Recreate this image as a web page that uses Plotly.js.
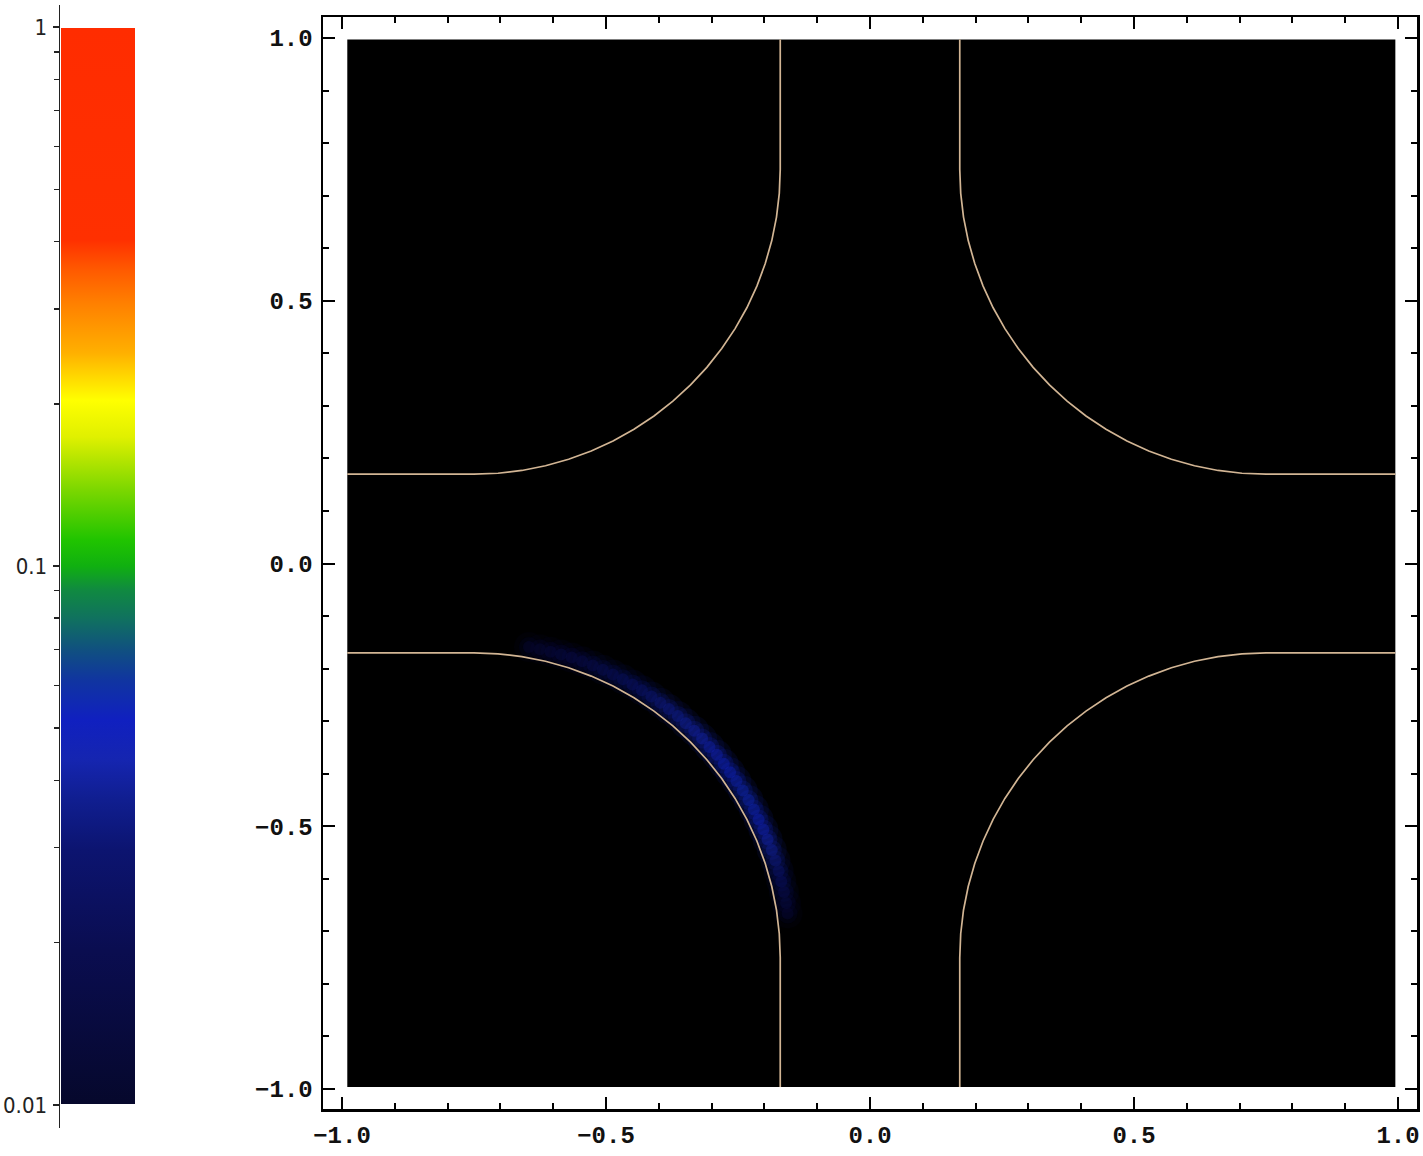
<!DOCTYPE html>
<html><head><meta charset="utf-8">
<script src="https://cdn.plot.ly/plotly-3.0.1.min.js"></script>
<style>html,body{margin:0;padding:0;background:#fff}</style>
</head><body><div id="chart" style="width:1423px;height:1156px"></div>
<script>
// Upper-left boundary arc; other three are mirror images
const arcX = [-0.75, -0.7045, -0.6593, -0.6146, -0.5708, -0.5280, -0.4867, -0.4470, -0.4091, -0.3733, -0.3399,
              -0.3090, -0.2808, -0.2555, -0.2332, -0.2142, -0.1984, -0.1860, -0.1771, -0.1718, -0.17];
const arcY = [0.17, 0.1718, 0.1771, 0.1860, 0.1984, 0.2142, 0.2332, 0.2555, 0.2808, 0.3090, 0.3399,
              0.3733, 0.4091, 0.4470, 0.4867, 0.5280, 0.5708, 0.6146, 0.6593, 0.7045, 0.75];
// extent of the drawn (black) data region
const regionX = [-0.99, 0.995];
const regionY = [-0.996, 0.997];
// density glow along the lower-left boundary
const glowX = [-0.646,-0.625,-0.605,-0.585,-0.565,-0.545,-0.525,-0.506,-0.487,-0.468,-0.450,-0.432,-0.414,-0.397,-0.381,-0.364,-0.349,-0.333,-0.318,-0.304,-0.290,-0.277,-0.265,-0.253,-0.241,-0.230,-0.220,-0.211,-0.202,-0.194,-0.186,-0.179,-0.173,-0.168,-0.163,-0.159,-0.156];
const glowY = [-0.159,-0.163,-0.168,-0.173,-0.179,-0.186,-0.194,-0.202,-0.211,-0.220,-0.230,-0.241,-0.253,-0.265,-0.277,-0.290,-0.304,-0.318,-0.333,-0.349,-0.364,-0.381,-0.397,-0.414,-0.432,-0.450,-0.468,-0.487,-0.506,-0.525,-0.545,-0.565,-0.585,-0.605,-0.625,-0.646,-0.666];
const glowDensity = [0.012,0.013,0.015,0.016,0.018,0.019,0.020,0.022,0.024,0.026,0.028,0.030,0.032,0.034,0.036,0.038,0.040,0.042,0.044,0.046,0.048,0.050,0.052,0.054,0.055,0.055,0.054,0.052,0.048,0.044,0.040,0.035,0.030,0.025,0.020,0.016,0.012];
// axis ticks
const mainTickVals = [-1, -0.5, 0, 0.5, 1];
const mainTickText = ["\u22121.0", "\u22120.5", "0.0", "0.5", "1.0"];
const cbTickVals = [0.01, 0.1, 1];
const cbTickText = ["0.01", "0.1", "1"];
const cbMinorVals = [0.02,0.03,0.04,0.05,0.06,0.07,0.08,0.09,0.2,0.3,0.4,0.5,0.6,0.7,0.8,0.9];

const colorscale = [
  [0, '#06082c'], [0.143, '#0a0d50'], [0.236, '#0c1470'], [0.283, '#101e90'],
  [0.320, '#1525b0'], [0.357, '#1020c0'], [0.394, '#1035a0'], [0.422, '#105080'],
  [0.450, '#107060'], [0.478, '#108a40'], [0.500, '#10b010'], [0.524, '#20c400'],
  [0.573, '#80d800'], [0.620, '#e0f000'], [0.654, '#ffff00'], [0.698, '#ffb000'],
  [0.744, '#ff8000'], [0.775, '#ff5a00'], [0.803, '#ff3000'], [1, '#ff2c00']
];

const W = 1423, H = 1156;
const logGlow = glowDensity.map(v => Math.log10(v));

function quadrant(sx, sy) {
  const xs = arcX.map(v => sx * v), ys = arcY.map(v => sy * v);
  const xEdge = sx > 0 ? regionX[0] : regionX[1];
  const yEdge = sy > 0 ? regionY[1] : regionY[0];
  return {
    type: 'scatter', mode: 'lines', xaxis: 'x', yaxis: 'y',
    x: [xEdge].concat(xs, [xs[xs.length - 1]]),
    y: [ys[0]].concat(ys, [yEdge]),
    line: {color: '#d2b594', width: 1.7}, hoverinfo: 'skip', showlegend: false
  };
}

function glowLayer(size, opacity, withScale) {
  const m = {color: logGlow, colorscale: colorscale, cmin: -2, cmax: 0, size: size, opacity: opacity,
             line: {width: 0}, showscale: withScale};
  if (withScale) {
    m.colorbar = {x: 61 / W, xanchor: 'left', xref: 'paper', y: 1 - 28 / H, yanchor: 'top', yref: 'paper',
                  len: (1104 - 28) / H, lenmode: 'fraction', thickness: 74, thicknessmode: 'pixels',
                  xpad: 0, ypad: 0, outlinewidth: 0, showticklabels: false, ticks: '', title: {text: ''}};
  }
  return {type: 'scatter', mode: 'markers', x: glowX, y: glowY, xaxis: 'x', yaxis: 'y',
          marker: m, hoverinfo: 'skip', showlegend: false};
}

const traces = [
  glowLayer(30, 0.11, true),
  glowLayer(20, 0.20, false),
  glowLayer(12, 0.38, false),
  quadrant(1, 1), quadrant(-1, 1), quadrant(1, -1), quadrant(-1, -1),
  {type: 'scatter', mode: 'markers', x: [], y: [], xaxis: 'x2', yaxis: 'y2', hoverinfo: 'skip', showlegend: false}
];

const mainAxis = {
  showline: true, linecolor: '#000', linewidth: 2.5, mirror: 'allticks',
  ticks: 'inside', ticklen: 12, tickwidth: 2, tickcolor: '#000',
  tickmode: 'array', tickvals: mainTickVals, ticktext: mainTickText,
  minor: {ticks: 'inside', ticklen: 6, tickwidth: 2, tickcolor: '#000', dtick: 0.1, tick0: 0, showgrid: false},
  showgrid: false, zeroline: false, fixedrange: true,
  tickfont: {family: 'Liberation Mono, Courier New, monospace', size: 24, color: '#111', weight: 'bold'}
};

const layout = {
  width: W, height: H,
  margin: {l: 0, r: 0, t: 0, b: 0, autoexpand: false},
  paper_bgcolor: '#fff', plot_bgcolor: 'rgba(0,0,0,0)',
  showlegend: false,
  xaxis: Object.assign({}, mainAxis, {domain: [323 / W, 1417 / W], range: [-1.036, 1.036], anchor: 'y', ticklabelstandoff: 3}),
  yaxis: Object.assign({}, mainAxis, {domain: [1 - 1109 / H, 1 - 17 / H], range: [-1.038, 1.04], anchor: 'x', ticklabelstandoff: 3}),
  xaxis2: {domain: [60 / W, 135 / W], range: [0, 1], anchor: 'y2', visible: false, fixedrange: true},
  yaxis2: {domain: [1 - 1128 / H, 1 - 5 / H], range: [-2.043, 0.041], anchor: 'x2', side: 'left',
           showline: true, linecolor: '#222', linewidth: 1.5, ticks: 'outside', ticklen: 6, tickwidth: 1.5, tickcolor: '#222',
           tickmode: 'array', tickvals: cbTickVals.map(v => Math.log10(v)), ticktext: cbTickText,
           minor: {tickmode: 'array', tickvals: cbMinorVals.map(v => Math.log10(v)), ticks: 'outside', ticklen: 5, tickwidth: 1.5, tickcolor: '#222', showgrid: false},
           showgrid: false, zeroline: false, fixedrange: true, ticklabelstandoff: 1,
           tickfont: {family: 'Liberation Sans Narrow, DejaVu Sans Condensed, sans-serif', size: 22, color: '#222'}},
  shapes: [{type: 'rect', xref: 'x', yref: 'y', x0: regionX[0], x1: regionX[1], y0: regionY[0], y1: regionY[1],
            fillcolor: '#000', line: {width: 0}, layer: 'below'}]
};

Plotly.newPlot('chart', traces, layout, {displayModeBar: false, staticPlot: true});
</script>
</body></html>
